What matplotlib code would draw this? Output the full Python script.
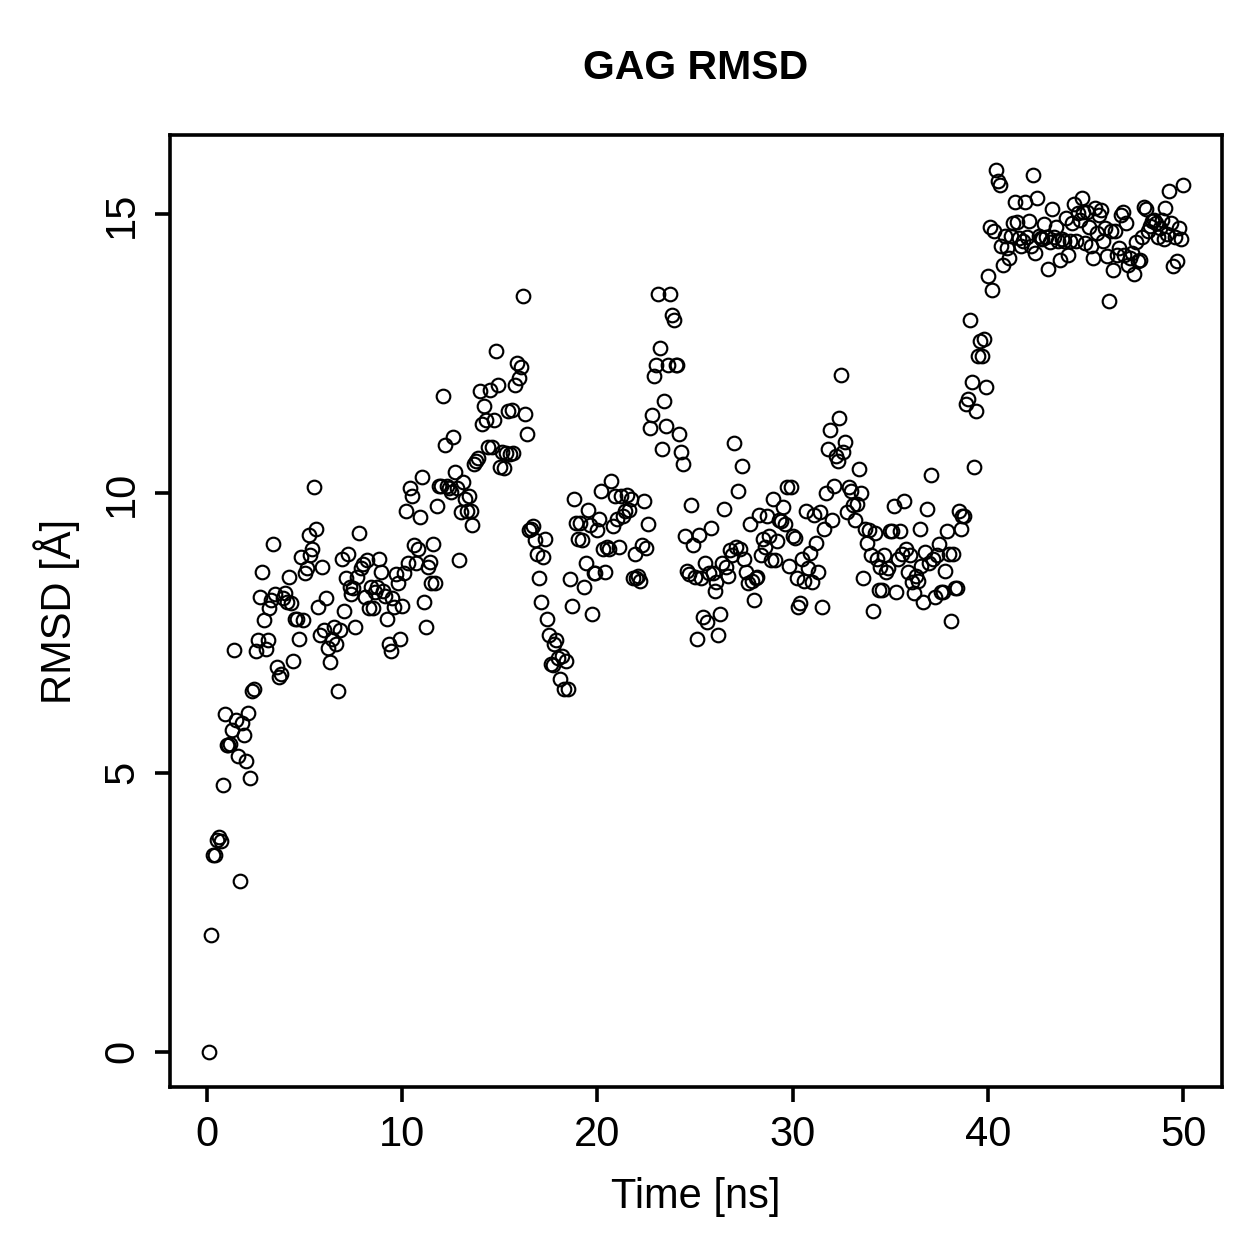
import numpy as np
import matplotlib
matplotlib.use("Agg")
import matplotlib.pyplot as plt

plt.rcParams['font.family'] = ['Liberation Sans', 'DejaVu Sans']

# RMSD values (Å), 10 frames per ns
rmsd_blocks = [
    [0, 2.1, 3.53, 3.53, 3.8, 3.85, 3.78, 4.77, 6.05, 5.5],
    [5.5, 5.52, 5.77, 7.19, 5.95, 5.3, 3.05, 5.88, 5.68, 5.2],
    [6.07, 4.9, 6.47, 6.5, 7.17, 7.37, 8.15, 8.6, 7.74, 7.22],
    [7.38, 7.94, 8.1, 9.1, 8.2, 6.9, 6.72, 6.77, 8.12, 8.22],
    [8.06, 8.5, 8.03, 7.0, 7.76, 7.76, 7.4, 8.87, 7.74, 8.58],
    [8.66, 9.26, 8.89, 9.0, 10.12, 9.37, 7.96, 7.47, 8.69, 7.56],
    [8.12, 7.24, 6.99, 7.4, 7.6, 7.3, 6.47, 7.55, 8.83, 7.9],
    [8.48, 8.92, 8.33, 8.2, 8.3, 7.6, 8.5, 9.3, 8.66, 8.73],
    [8.15, 8.8, 7.94, 8.33, 7.94, 8.23, 8.33, 8.83, 8.6, 8.25],
    [8.17, 7.76, 7.31, 7.17, 8.12, 7.97, 8.55, 8.39, 7.4, 7.99],
    [8.57, 9.68, 8.75, 10.1, 9.96, 9.07, 8.75, 9.01, 9.57, 10.3],
    [8.06, 7.6, 8.69, 8.78, 8.4, 9.1, 8.39, 9.78, 10.14, 10.14],
    [11.74, 10.86, 10.14, 10.1, 10.02, 11.02, 10.38, 10.09, 8.8, 9.66],
    [10.21, 9.91, 9.68, 9.95, 9.68, 9.43, 10.52, 10.59, 10.63, 11.83],
    [11.24, 11.56, 11.31, 10.84, 11.85, 10.84, 11.31, 12.56, 11.94, 10.47],
    [10.75, 10.45, 10.72, 11.47, 10.7, 11.5, 10.72, 11.95, 12.33, 12.06],
    [12.26, 13.53, 11.42, 11.06, 9.35, 9.37, 9.41, 9.16, 8.92, 8.49],
    [8.06, 8.87, 9.18, 7.76, 7.47, 6.95, 6.92, 7.31, 7.38, 7.05],
    [6.67, 7.08, 6.5, 7.0, 6.49, 8.46, 7.99, 9.91, 9.48, 9.19],
    [9.48, 9.16, 8.33, 8.76, 9.7, 9.44, 7.85, 8.57, 8.58, 9.34],
    [9.55, 10.04, 9.0, 8.6, 9.05, 9.01, 10.23, 9.41, 9.96, 9.55],
    [9.05, 9.96, 9.59, 9.68, 9.98, 9.7, 9.9, 8.48, 8.92, 8.48],
    [8.53, 8.44, 9.07, 9.86, 9.03, 9.46, 11.18, 11.4, 12.1, 12.3],
    [13.57, 12.6, 10.79, 11.65, 11.2, 12.3, 13.57, 13.19, 13.1, 12.31],
    [12.3, 11.07, 10.75, 10.52, 9.23, 8.62, 8.55, 9.79, 9.07, 8.51],
    [7.4, 9.25, 8.48, 7.78, 8.76, 7.69, 8.57, 9.39, 8.57, 8.26],
    [8.42, 7.46, 7.85, 8.75, 9.73, 8.69, 8.53, 8.98, 8.9, 10.9],
    [9.05, 10.04, 9.01, 10.5, 8.83, 8.6, 8.39, 9.46, 8.44, 8.1],
    [8.48, 8.51, 9.62, 8.89, 9.19, 9.05, 9.6, 9.23, 8.8, 9.91],
    [8.8, 9.14, 9.52, 9.5, 9.75, 9.46, 10.12, 8.71, 10.12, 9.23],
    [9.21, 8.48, 7.96, 8.03, 8.83, 8.44, 9.68, 8.67, 8.94, 8.42],
    [9.61, 9.12, 8.6, 9.66, 7.97, 9.37, 10.0, 10.79, 11.13, 9.53],
    [10.14, 10.68, 10.59, 11.36, 12.13, 10.75, 10.93, 9.66, 10.12, 10.04],
    [9.79, 9.53, 9.82, 10.43, 10.0, 8.48, 9.37, 9.12, 9.34, 8.89],
    [7.9, 9.3, 8.83, 8.28, 8.69, 8.28, 8.89, 8.6, 8.66, 9.32],
    [9.32, 9.77, 8.24, 8.83, 9.32, 8.92, 9.87, 9.01, 8.6, 8.9],
    [8.42, 8.21, 8.53, 8.44, 9.37, 8.71, 8.06, 8.96, 9.73, 8.75],
    [10.34, 8.83, 8.15, 8.89, 9.1, 8.24, 8.24, 8.62, 9.32, 8.92],
    [7.71, 8.92, 8.31, 8.3, 9.68, 9.37, 9.59, 9.6, 11.61, 11.7],
    [13.1, 12.0, 10.47, 11.47, 12.46, 12.74, 12.46, 12.76, 11.9, 13.89],
    [14.77, 13.64, 14.71, 15.79, 15.59, 15.52, 14.43, 14.1, 14.62, 14.4],
    [14.21, 14.62, 14.84, 15.23, 14.87, 14.57, 14.44, 14.53, 15.23, 14.6],
    [14.89, 14.44, 15.7, 14.3, 15.29, 14.61, 14.57, 14.55, 14.82, 14.59],
    [14.03, 14.5, 15.1, 14.6, 14.78, 14.52, 14.18, 14.55, 14.53, 14.93],
    [14.28, 14.53, 14.84, 15.18, 14.52, 15.02, 14.9, 15.29, 15.05, 14.48],
    [15.05, 14.78, 14.43, 14.21, 15.11, 14.66, 14.98, 15.07, 14.53, 14.75],
    [14.25, 13.44, 14.71, 14.0, 14.7, 14.27, 14.39, 14.98, 15.05, 14.27],
    [14.84, 14.09, 14.21, 14.3, 13.94, 14.5, 14.16, 14.18, 14.6, 15.14],
    [15.09, 14.7, 14.8, 14.88, 14.9, 14.85, 14.6, 14.75, 14.9, 14.55],
    [15.11, 14.65, 15.41, 14.85, 14.07, 14.6, 14.16, 14.75, 14.55, 15.52],
]
rmsd = np.concatenate([np.array(b, dtype=float) for b in rmsd_blocks])
time_ns = np.arange(1, len(rmsd) + 1) * 0.1

x_ticks = [0, 10, 20, 30, 40, 50]
y_ticks = [0, 5, 10, 15]

W = H = 1259
DPI = 100
fig = plt.figure(figsize=(W / DPI, H / DPI), dpi=DPI)
ax = fig.add_axes([170 / W, 1 - 1087 / H, (1222 - 170) / W, (1087 - 135) / H])

ax.plot(time_ns, rmsd, linestyle='none', marker='o', markersize=9.8,
        markerfacecolor='none', markeredgecolor='black', markeredgewidth=1.55)

xr = time_ns.max() - time_ns.min()
ax.set_xlim(time_ns.min() - 0.04 * xr, time_ns.max() + 0.04 * xr)
yr = rmsd.max() - rmsd.min()
ax.set_ylim(rmsd.min() - 0.04 * yr, rmsd.max() + 0.04 * yr)

ax.set_xticks(x_ticks)
ax.set_yticks(y_ticks)
ax.set_xticklabels([str(v) for v in x_ticks])
ax.set_yticklabels([str(v) for v in y_ticks], rotation=90, va='center')

for s in ax.spines.values():
    s.set_linewidth(2.6)
ax.tick_params(axis='both', direction='out', length=11, width=2.6,
               labelsize=30, pad=9)

ax.set_xlabel('Time [ns]', fontsize=30, labelpad=16)
ax.set_ylabel('RMSD [Å]', fontsize=30, labelpad=16)
fig.text((170 + 1222) / 2 / W, 1 - 68 / H, 'GAG RMSD', fontsize=29.5,
         fontweight='bold', ha='center', va='center')

fig.savefig('out.png', dpi=DPI)
